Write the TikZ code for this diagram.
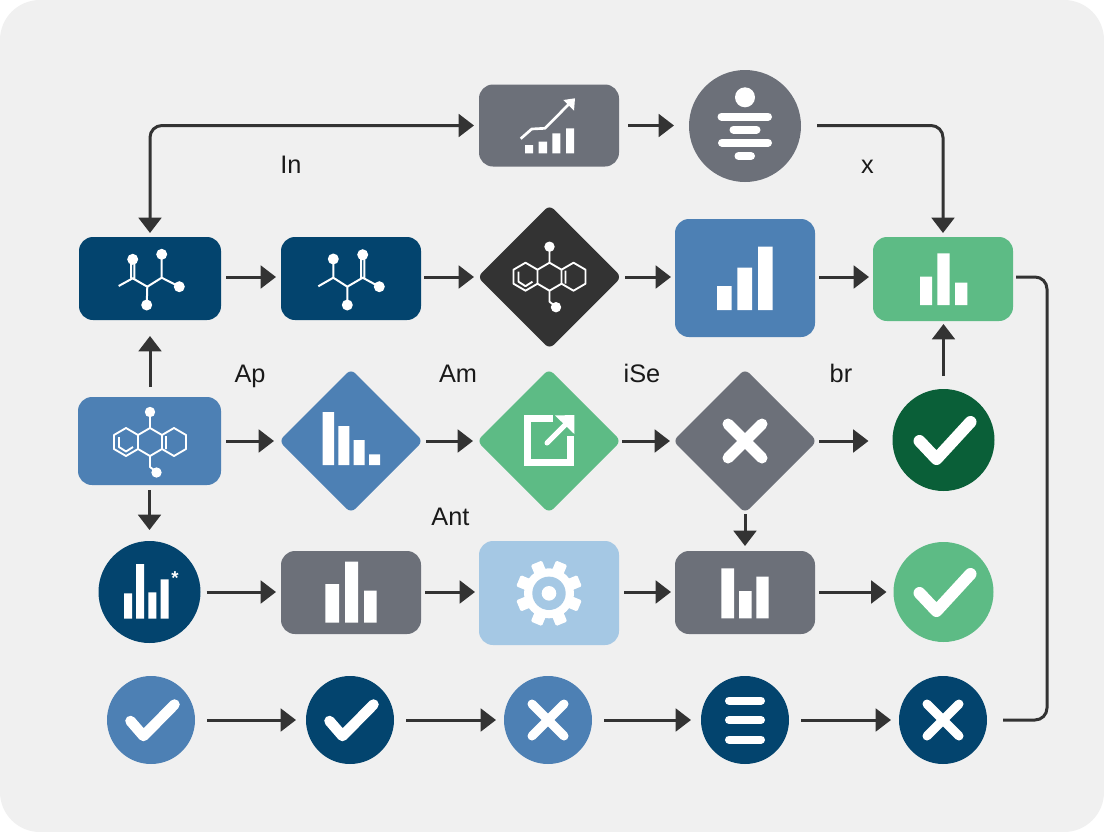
\documentclass[tikz,border=0pt]{standalone}
\usepackage{fontspec}
\setmainfont{Liberation Sans}
\usetikzlibrary{arrows.meta,shapes.geometric,calc}
\definecolor{navy}{HTML}{03446E}
\definecolor{midblue}{HTML}{4D80B4}
\definecolor{slate}{HTML}{6C7079}
\definecolor{ink}{HTML}{333333}
\definecolor{leaf}{HTML}{5DBB85}
\definecolor{forest}{HTML}{0A5F38}
\definecolor{sky}{HTML}{A5C8E4}
\definecolor{paper}{HTML}{F0F0F0}
\tikzset{
  boxn/.style n args={3}{rectangle,rounded corners=10.5pt,fill=#1,inner sep=0pt,outer sep=0pt,minimum width=#2*0.75pt,minimum height=#3*0.75pt},
  dian/.style={diamond,aspect=1,rounded corners=4.5pt,fill=#1,inner sep=0pt,outer sep=0pt,minimum width=108pt,minimum height=108pt},
  circn/.style 2 args={circle,fill=#1,inner sep=0pt,outer sep=0pt,minimum size=#2*1.5pt},
  conn/.style={draw=ink,line width=2.25pt,-{Triangle[length=11.5pt,width=17pt]}},
  plainconn/.style={draw=ink,line width=2.25pt},
  cgap/.style 2 args={shorten <=#1*0.75pt,shorten >=#2*0.75pt},
  lbl/.style={text=black!90,font=\fontsize{19}{22}\selectfont,inner sep=0pt,anchor=base},
  wb/.style={fill=white},
  mol3/.pic={
    \draw[white,line width=1.4pt,line join=round]
      (0,-14)--(12,-7)--(12,7)--(0,14)--(-12,7)--(-12,-7)--cycle
      (-12,-7)--(-24,-14)--(-36,-7)--(-36,7)--(-24,14)--(-12,7)
      (12,-7)--(24,-14)--(36,-7)--(36,7)--(24,14)--(12,7)
      (-31,-5)--(-31,5)--(-24,9.5)--(-17,5)
      (16,-6)--(16,7)
      (0,-14)--(0,-30)
      (0,14)--(0,25)--(6.5,30);
    \fill[white] (0,-30) circle[radius=5.2] (6.5,30.5) circle[radius=5.2];
  },
  checkbig/.pic={\draw[white,line width=9pt,line cap=round,line join=round] (-24,1)--(-7,19)--(27,-18);},
  checksm/.pic={\draw[white,line width=7.9pt,line cap=round,line join=round] (-20.5,1)--(-7.5,16)--(23.5,-15.5);},
  crossbig/.pic={\draw[white,line width=8.25pt,line cap=round] (-17,-17)--(17,17) (-17,17)--(17,-17);},
  crosssm/.pic={\draw[white,line width=6.75pt,line cap=round] (-16,-16)--(16,16) (-16,16)--(16,-16);},
}
\begin{document}
\begin{tikzpicture}[x=0.75pt,y=-0.75pt]
\useasboundingbox (0,0) rectangle (1104,832);
\fill[white] (0,0) rectangle (1104,832);
\fill[paper,rounded corners=30pt] (0,0) rectangle (1104,832);

% nodes
\node[boxn={slate}{140}{82}] (trend) at (549,125.5) {};
\node[circn={slate}{56}] (hub) at (745,126) {};

\node[boxn={navy}{142}{83}] (molA) at (150,278.5) {};
\node[boxn={navy}{140}{83}] (molB) at (351,278.5) {};
\node[dian=ink] (molC) at (549.5,277) {};
\node[boxn={midblue}{140}{118}] (barsA) at (745,278) {};
\node[boxn={leaf}{140}{84}] (barsB) at (943,279) {};

\node[boxn={midblue}{143}{88}] (molD) at (149.5,441) {};
\node[dian=midblue] (diaA) at (351,441) {};
\node[dian=leaf] (diaB) at (549,441) {};
\node[dian=slate] (diaC) at (745,441) {};
\node[circn={forest}{51}] (okA) at (943.5,440) {};

\node[circn={navy}{51}] (starC) at (149.5,592) {};
\node[boxn={slate}{140}{83}] (barsC) at (351,592.5) {};
\node[boxn={sky}{140}{104}] (gear) at (549,593) {};
\node[boxn={slate}{140}{83}] (barsD) at (745,592.5) {};
\node[circn={leaf}{50}] (okB) at (943.5,592) {};

\node[circn={midblue}{44}] (e1) at (151,720) {};
\node[circn={navy}{44}] (e2) at (350,720) {};
\node[circn={midblue}{44}] (e3) at (548,720) {};
\node[circn={navy}{44}] (e4) at (745,720) {};
\node[circn={navy}{44}] (e5) at (943,720) {};

% labels
\node[lbl] (tIn) at (291,173) {In};
\node[lbl] (tx) at (867.5,173) {x};
\node[lbl] (tAp) at (250,382) {Ap};
\node[lbl] (tAm) at (458,382) {Am};
\node[lbl] (tiSe) at (642,382) {iSe};
\node[lbl] (tbr) at (841,382) {br};
\node[lbl] (tAnt) at (450.5,525.5) {Ant};

% connectors
\coordinate (rail) at (1047,500);
\draw[conn,{Triangle[length=11.5pt,width=17pt]}-{Triangle[length=11.5pt,width=17pt]},rounded corners=9pt,cgap={4}{5}] (molA.north) |- (trend.west);
\draw[conn,cgap={9}{15}] (trend.east) -- (trend.east -| hub.west);
\draw[conn,rounded corners=9pt,cgap={16}{4}] (hub.east |- trend.east) -| (barsB.north);
\draw[plainconn,rounded corners=9pt,cgap={3}{16}] (barsB.east |- molC.east) -| (rail) |- (e5.east);

\draw[conn,cgap={5}{5}] (molA.east |- molC.west) -- (molB.west |- molC.west);
\draw[conn,cgap={3}{3.5}] (molB.east |- molC.west) -- (molC.west);
\draw[conn,cgap={3.5}{4}] (molC.east) -- (barsA.west |- molC.east);
\draw[conn,cgap={4}{4}] (barsA.east |- molC.east) -- (barsB.west |- molC.east);

\draw[conn,cgap={10}{16}] (molD.north -| molA.south) -- (molA.south);
\draw[conn,cgap={5}{11}] (molD.south) -- (molD.south |- starC.north);

\draw[conn,cgap={5}{5}] (molD.east) -- (diaA.west);
\draw[conn,cgap={3}{4}] (diaA.east) -- (diaB.west);
\draw[conn,cgap={1}{3}] (diaB.east) -- (diaC.west);
\draw[conn,cgap={2}{24}] (diaC.east) -- (okA.west |- diaC.east);
\draw[conn,cgap={13}{3}] (okA.north) -- (okA.north |- barsB.south);
\draw[conn,cgap={1}{5}] (diaC.south) -- (barsD.north);

\draw[conn,cgap={6}{5}] (starC.east) -- (barsC.west |- starC.east);
\draw[conn,cgap={4}{4}] (barsC.east |- starC.east) -- (gear.west |- starC.east);
\draw[conn,cgap={5}{4}] (gear.east |- starC.east) -- (barsD.west |- starC.east);
\draw[conn,cgap={4}{7}] (barsD.east |- starC.east) -- (okB.west);

\draw[conn,cgap={12}{10}] (e1.east) -- (e2.west);
\draw[conn,cgap={12}{8}] (e2.east) -- (e3.west);
\draw[conn,cgap={12}{10}] (e3.east) -- (e4.west);
\draw[conn,cgap={12}{8}] (e4.east) -- (e5.west);

% icons: chain molecules
\draw[white,line width=1.5pt,line join=round] (118.7,286)--(132.7,278.3)--(147.3,286.7)--(161.7,277.7)--(179.3,286.7)
  (131.2,278)--(131.2,259.3) (134.4,279)--(134.4,259.3) (161.7,277.7)--(161.7,254.3) (147.3,286.7)--(146.7,305);
\fill[white] (179.3,286.7) circle[radius=5.5] (132.7,259.3) circle[radius=5.5] (161.7,254.3) circle[radius=5.5] (146.7,305) circle[radius=5.5];
\draw[white,line width=1.5pt,line join=round] (318.3,286.3)--(333.3,277.7)--(347.3,286.7)--(362.7,277.7)--(379.3,286.7)
  (333.3,277.7)--(333.3,259) (347.3,286.7)--(347.3,305) (361.2,278)--(361.2,254.7) (364.4,279)--(364.4,254.7);
\fill[white] (379.3,286.7) circle[radius=5.5] (333.3,259) circle[radius=5.5] (362.7,254.7) circle[radius=5.5] (347.3,305) circle[radius=5.5];
\pic at (150,442) {mol3};
\pic at (549.5,276.7) {mol3};

% icons: trend chart
\fill[wb] (525,145) rectangle (533,153.3) (538.7,141.7) rectangle (547,153.3) (552.3,133.3) rectangle (560.3,153.3) (566,128.3) rectangle (574,153.3);
\draw[white,line width=2pt,line join=round] (520.7,138.7)--(531.7,129)--(545,128.3)--(572,101);
\fill[wb] (563.3,100)--(575,98.3)--(574,110.7)--cycle;

% icons: hub
\fill[wb] (745,97.3) circle[radius=10];
\draw[white,line width=6pt,line cap=round] (721.5,116.5)--(768,116.5) (733.5,129.5)--(756.5,129.5) (722,142.7)--(768,142.7) (738.5,156)--(751,156);

% icons: bars
\fill[wb] (717,286) rectangle (731.7,310) (737.3,267.7) rectangle (752,310) (758,246.7) rectangle (772.7,310);
\fill[wb] (920,276.7) rectangle (932,305) (937.3,253.3) rectangle (949.7,305) (955,282.7) rectangle (967.3,305);
\fill[wb] (322.7,412) rectangle (334,465) (338.3,426) rectangle (349.3,465) (353.7,440) rectangle (364.7,465) (369,454.3) rectangle (380,465);
\fill[wb] (325.3,584) rectangle (339,622.7) (345,561.7) rectangle (358,622.7) (364,590.7) rectangle (376.7,622.7);
\fill[wb] (721.3,568.3) rectangle (734,618.3) (739,591) rectangle (751.7,618.3) (756.3,576.7) rectangle (768.7,618.3);
\fill[wb] (124,593.3) rectangle (132,618.7) (136,564) rectangle (144,618.7) (148.3,592.3) rectangle (156.3,618.7) (160.7,579.3) rectangle (168.7,618.7);
\node[text=white,font=\bfseries\fontsize{14}{14}\selectfont,inner sep=0pt] (aster) at (175,578) {*};

% icons: open-external
\draw[white,line width=5.25pt,line join=miter] (570.8,436)--(570.8,462.5)--(527.8,462.5)--(527.8,418.5)--(553,418.5);
\draw[white,line width=3.75pt,line cap=round] (547,443)--(566,424);
\fill[wb] (555,415.5)--(574.3,415)--(574.3,434)--cycle;

% icons: gear
\begin{scope}[shift={(549,593.3)}]
  \fill[wb] (0,0) circle[radius=25];
  \foreach \a in {22.5,67.5,...,337.5}{
    \fill[wb,rotate=\a,rounded corners=1pt] (-6,-33) rectangle (6,-20);
  }
  \fill[sky] (0,0) circle[radius=16.7];
  \fill[wb] (0,0) circle[radius=7.3];
\end{scope}

% icons: checks, crosses, menu
\pic at (okA.center) {checkbig};
\pic at (okB.center) {checkbig};
\pic at (e1.center) {checksm};
\pic at (e2.center) {checksm};
\pic at (diaC.center) {crossbig};
\pic at (e3.center) {crosssm};
\pic at (e5.center) {crosssm};
\draw[white,line width=6pt,line cap=round] (729,700.5)--(761,700.5) (729,720)--(761,720) (729,739.5)--(761,739.5);
\end{tikzpicture}
\end{document}
